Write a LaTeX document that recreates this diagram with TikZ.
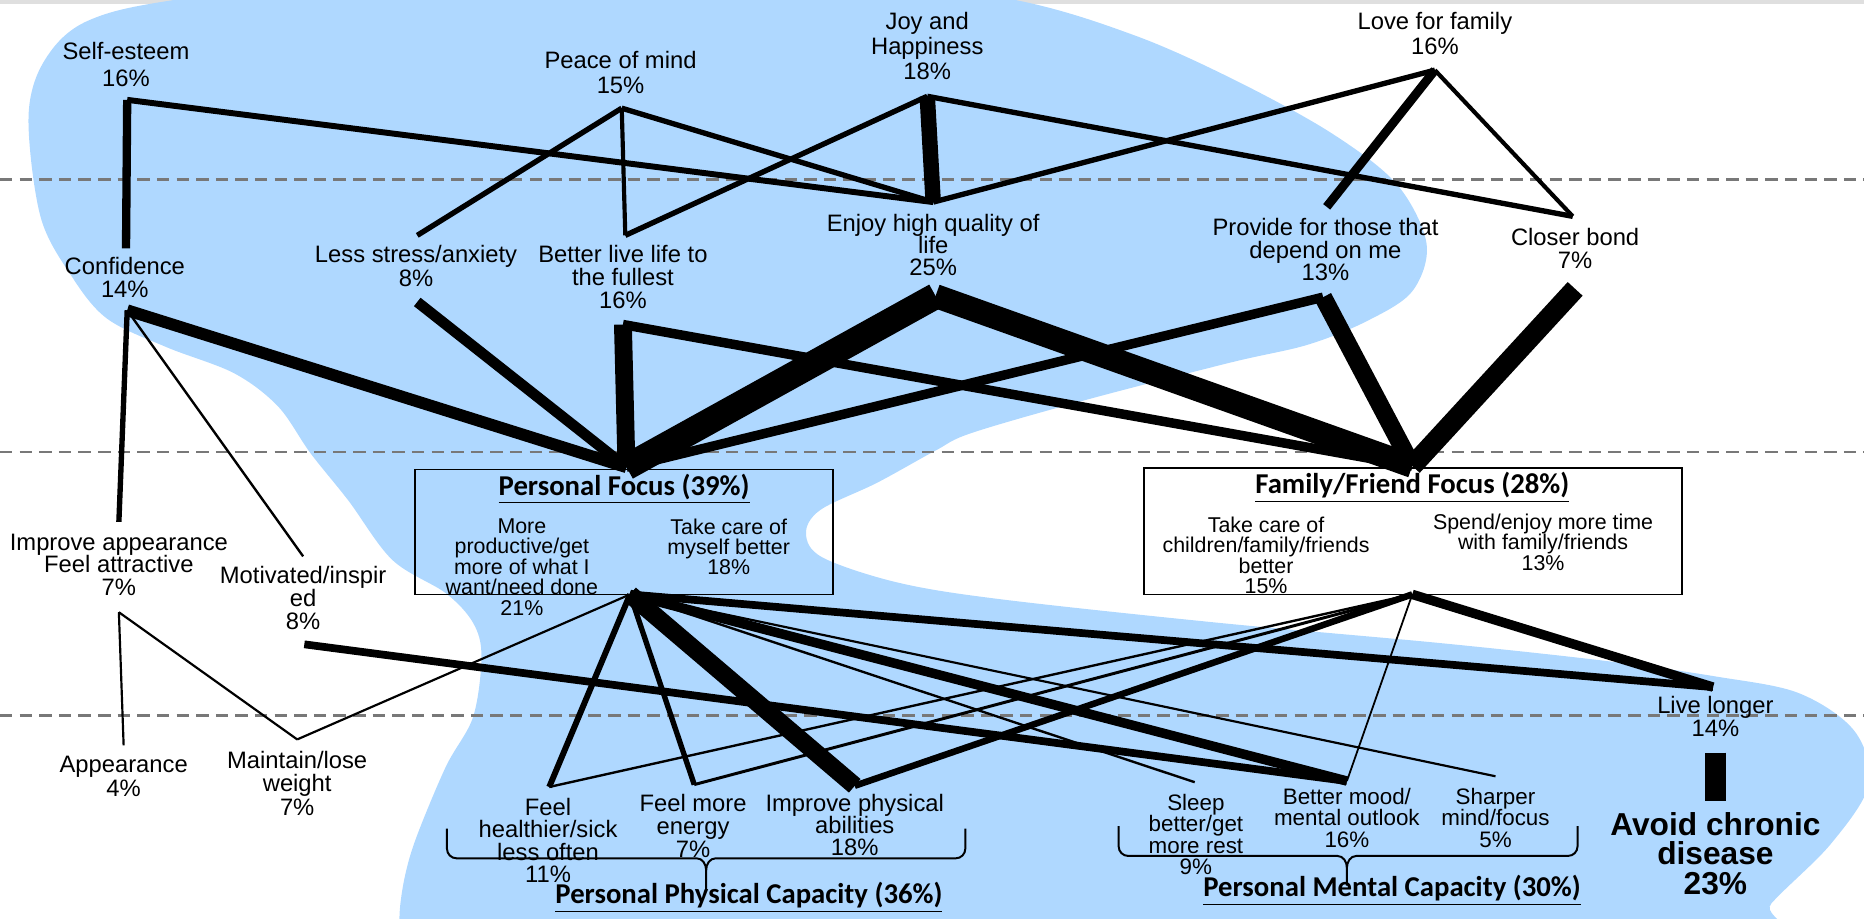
\documentclass[tikz,border=0pt]{standalone}
\usepackage{fontspec}
\setmainfont{Liberation Sans}
\newfontfamily\calfont{Carlito}
\usetikzlibrary{positioning}
\definecolor{blobblue}{RGB}{175,216,255}
\definecolor{dashgray}{RGB}{120,120,120}

\begin{document}
\begin{tikzpicture}[
    x=0.6pt, y=-0.6pt,
    lbl/.style={align=center, inner sep=0pt, font=\fontsize{12}{#1}\selectfont},
    lbl/.default=11.6pt,
    sml/.style={align=center, inner sep=0pt, font=\fontsize{10.8}{10.3}\selectfont},
    mnt/.style={align=center, inner sep=0pt, font=\fontsize{11.3}{10.9}\selectfont},
    ttl/.style={inner sep=0pt, font=\calfont\bfseries\fontsize{14.5}{15}\selectfont},
    fbox/.style={draw, line width=0.9pt, inner sep=0pt},
    guide/.style={dashgray, line width=1.2pt, dash pattern=on 6.3pt off 3.6pt},
    brc/.style={line width=1pt}
  ]

  \useasboundingbox (0,0) rectangle (1568,773);

  \begin{scope}
    \clip (0,0) rectangle (1568,773);
    \fill[gray!25] (0,0) rectangle (1568,3);
    \fill[blobblue] plot[smooth cycle, tension=0.55] coordinates {
      (24,98) (38,50) (75,17) (160,-2) (400,-30) (700,-20) (854,0) (955,30)
      (1040,68) (1120,112) (1175,155) (1200,205) (1188,245) (1150,270)
      (1100,290) (1035,305) (915,336) (818,364) (787,379) (738,406)
      (690,429) (678,449) (692,469) (755,490) (841,504) (1026,524)
      (1212,541) (1351,556) (1443,569) (1513,583) (1560,615) (1572,660)
      (1540,710) (1490,760) (1460,800) (900,810) (340,800) (336,773)
      (340,740) (350,705) (375,645) (398,603) (405,552) (398,524)
      (375,499) (330,471) (293,421) (261,381) (234,342) (197,314)
      (140,292) (90,268) (60,232) (34,182)};
  \end{scope}

  \draw[guide] (0,151) -- (1568,151);
  \draw[guide] (0,380) -- (1568,380);
  \draw[guide] (0,602) -- (1568,602);

  % top row
  \node[lbl=13.5pt] (self) at (106,54) {Self-esteem\\16\%};
  \node[lbl=13pt] (peace) at (522,61) {Peace of mind\\15\%};
  \node[lbl=12.6pt] (joy) at (780,39) {Joy and\\Happiness\\18\%};
  \node[lbl=12.6pt] (love) at (1207,28.5) {Love for family\\16\%};
  \coordinate (selfP) at (107,84);
  \coordinate (peaceP) at (523,91);
  \coordinate (joyP) at (780,81);
  \coordinate (loveP) at (1207,59);

  % second row
  \node[lbl=11.4pt] (conf) at (105,233.5) {Confidence\\14\%};
  \node[lbl=12pt] (stress) at (350,224) {Less stress/anxiety\\8\%};
  \node[lbl=11.4pt] (bll) at (524,233) {Better live life to\\the fullest\\16\%};
  \node[lbl=11.2pt] (enjoy) at (785,206) {Enjoy high quality of\\life\\25\%};
  \node[lbl=11.4pt] (provide) at (1115,210) {Provide for those that\\depend on me\\13\%};
  \node[lbl=12pt] (closer) at (1325,209) {Closer bond\\7\%};
  \coordinate (confT) at (106,209);
  \coordinate (confB) at (107,261);
  \coordinate (stressT) at (351,198);
  \coordinate (stressB) at (351,254);
  \coordinate (bllT) at (526,198);
  \coordinate (bllB) at (524,273);
  \coordinate (enjoyT) at (785,170);
  \coordinate (enjoyB) at (787,249);
  \coordinate (provT) at (1116,174);
  \coordinate (provB) at (1113,250);
  \coordinate (closerT) at (1323,182);
  \coordinate (closerB) at (1325,243);

  % focus boxes
  \node[fbox, minimum width=211.2pt, minimum height=63pt] (pf) at (525,447.5) {};
  \node[ttl] (pftitle) at (525,411) {\underline{Personal Focus (39\%)}};
  \node[sml] (pfl) at (439,477) {More\\productive/get\\more of what I\\want/need done\\21\%};
  \node[sml] (pfr) at (613,460) {Take care of\\myself better\\18\%};
  \node[fbox, minimum width=271.8pt, minimum height=63.6pt] (ff) at (1188.5,447) {};
  \node[ttl] (fftitle) at (1188,410) {\underline{Family/Friend Focus (28\%)}};
  \node[sml] (ffl) at (1065,467) {Take care of\\children/family/friends\\better\\15\%};
  \node[sml] (ffr) at (1298,456) {Spend/enjoy more time\\with family/friends\\13\%};
  \coordinate (pfT) at (527,393);
  \coordinate (pfB) at (530,500);
  \coordinate (ffT) at (1188,392);
  \coordinate (ffB) at (1188,500);

  % left side
  \node[lbl=11.4pt] (impapp) at (100,475) {Improve appearance\\Feel attractive\\7\%};
  \node[lbl=11.7pt] (motiv) at (255,503) {Motivated/inspir\\ed\\8\%};
  \node[lbl=12pt] (appear) at (104,653) {Appearance\\4\%};
  \node[lbl=11.7pt] (maint) at (250,659) {Maintain/lose\\weight\\7\%};
  \coordinate (appT) at (100,439);
  \coordinate (appB) at (100,515);
  \coordinate (motT) at (255,468);
  \coordinate (motB) at (256,542);
  \coordinate (appearT) at (104,627);
  \coordinate (maintT) at (250,622);

  % bottom row
  \node[lbl=11.6pt] (live) at (1443,603) {Live longer\\14\%};
  \node[lbl=11.4pt] (healthy) at (461,707) {Feel\\healthier/sick\\less often\\11\%};
  \node[lbl=11.6pt] (energy) at (583,695) {Feel more\\energy\\7\%};
  \node[lbl=11.2pt] (physab) at (719,694) {Improve physical\\abilities\\18\%};
  \node[mnt] (sleep) at (1006,702) {Sleep\\better/get\\more rest\\9\%};
  \node[mnt] (mood) at (1133,688) {Better mood/\\mental outlook\\16\%};
  \node[mnt] (sharp) at (1258,688) {Sharper\\mind/focus\\5\%};
  \node[align=center, inner sep=0pt, font=\bfseries\fontsize{16}{15}\selectfont] (avoid) at (1443,718) {Avoid chronic\\disease\\23\%};
  \node[ttl] (phystitle) at (630,755) {\underline{Personal Physical Capacity (36\%)}};
  \node[ttl] (menttitle) at (1171,749) {\underline{Personal Mental Capacity (30\%)}};
  \coordinate (liveT) at (1441,578);
  \coordinate (liveB) at (1443,633);
  \coordinate (avoidT) at (1443,674);
  \coordinate (healthT) at (462,662);
  \coordinate (energyT) at (584,660);
  \coordinate (physT) at (719,661);
  \coordinate (sleepT) at (1005,658);
  \coordinate (moodT) at (1133,657);
  \coordinate (sharpT) at (1258,653);

  \foreach \a/\b/\w in {selfP/confT/4.2pt, selfP/enjoyT/3pt, peaceP/stressT/2.7pt,
      peaceP/bllT/2.1pt, peaceP/enjoyT/2.7pt, joyP/bllT/2.7pt, joyP/enjoyT/7.8pt,
      joyP/closerT/2.7pt, loveP/enjoyT/2.7pt, loveP/provT/4.5pt, loveP/closerT/2.1pt,
      confB/pfT/6pt, confB/appT/2.7pt, confB/motT/1.2pt, stressB/pfT/5.4pt,
      bllB/pfT/9pt, bllB/ffT/4.8pt, enjoyB/pfT/13.2pt, enjoyB/ffT/12pt,
      provB/pfT/4.8pt, provB/ffT/9pt, closerB/ffT/10.2pt,
      pfB/healthT/3pt, pfB/energyT/2.7pt, pfB/physT/9pt, pfB/sleepT/1.2pt,
      pfB/moodT/4.8pt, pfB/sharpT/1.1pt, pfB/liveT/3.9pt, pfB/maintT/1.1pt,
      ffB/healthT/1.2pt, ffB/energyT/1.5pt, ffB/physT/3.3pt, ffB/moodT/0.9pt,
      ffB/liveT/4.8pt, motB/moodT/3.9pt, appB/appearT/1.1pt, appB/maintT/1.1pt,
      liveB/avoidT/10.8pt}
    \draw[line width=\w] (\a) -- (\b);

  \draw[brc] (376,697) -- (376,714) to[out=-90,in=180] (384,722) -- (586,722) to[out=0,in=90] (594,732) -- (594,749);
  \draw[brc] (812,697) -- (812,714) to[out=-90,in=0] (804,722) -- (602,722) to[out=180,in=90] (594,732);
  \draw[brc] (941,695) -- (941,712) to[out=-90,in=180] (949,720) -- (1125,720) to[out=0,in=90] (1133,730) -- (1133,745);
  \draw[brc] (1327,695) -- (1327,712) to[out=-90,in=0] (1319,720) -- (1141,720) to[out=180,in=90] (1133,730);

\end{tikzpicture}
\end{document}
